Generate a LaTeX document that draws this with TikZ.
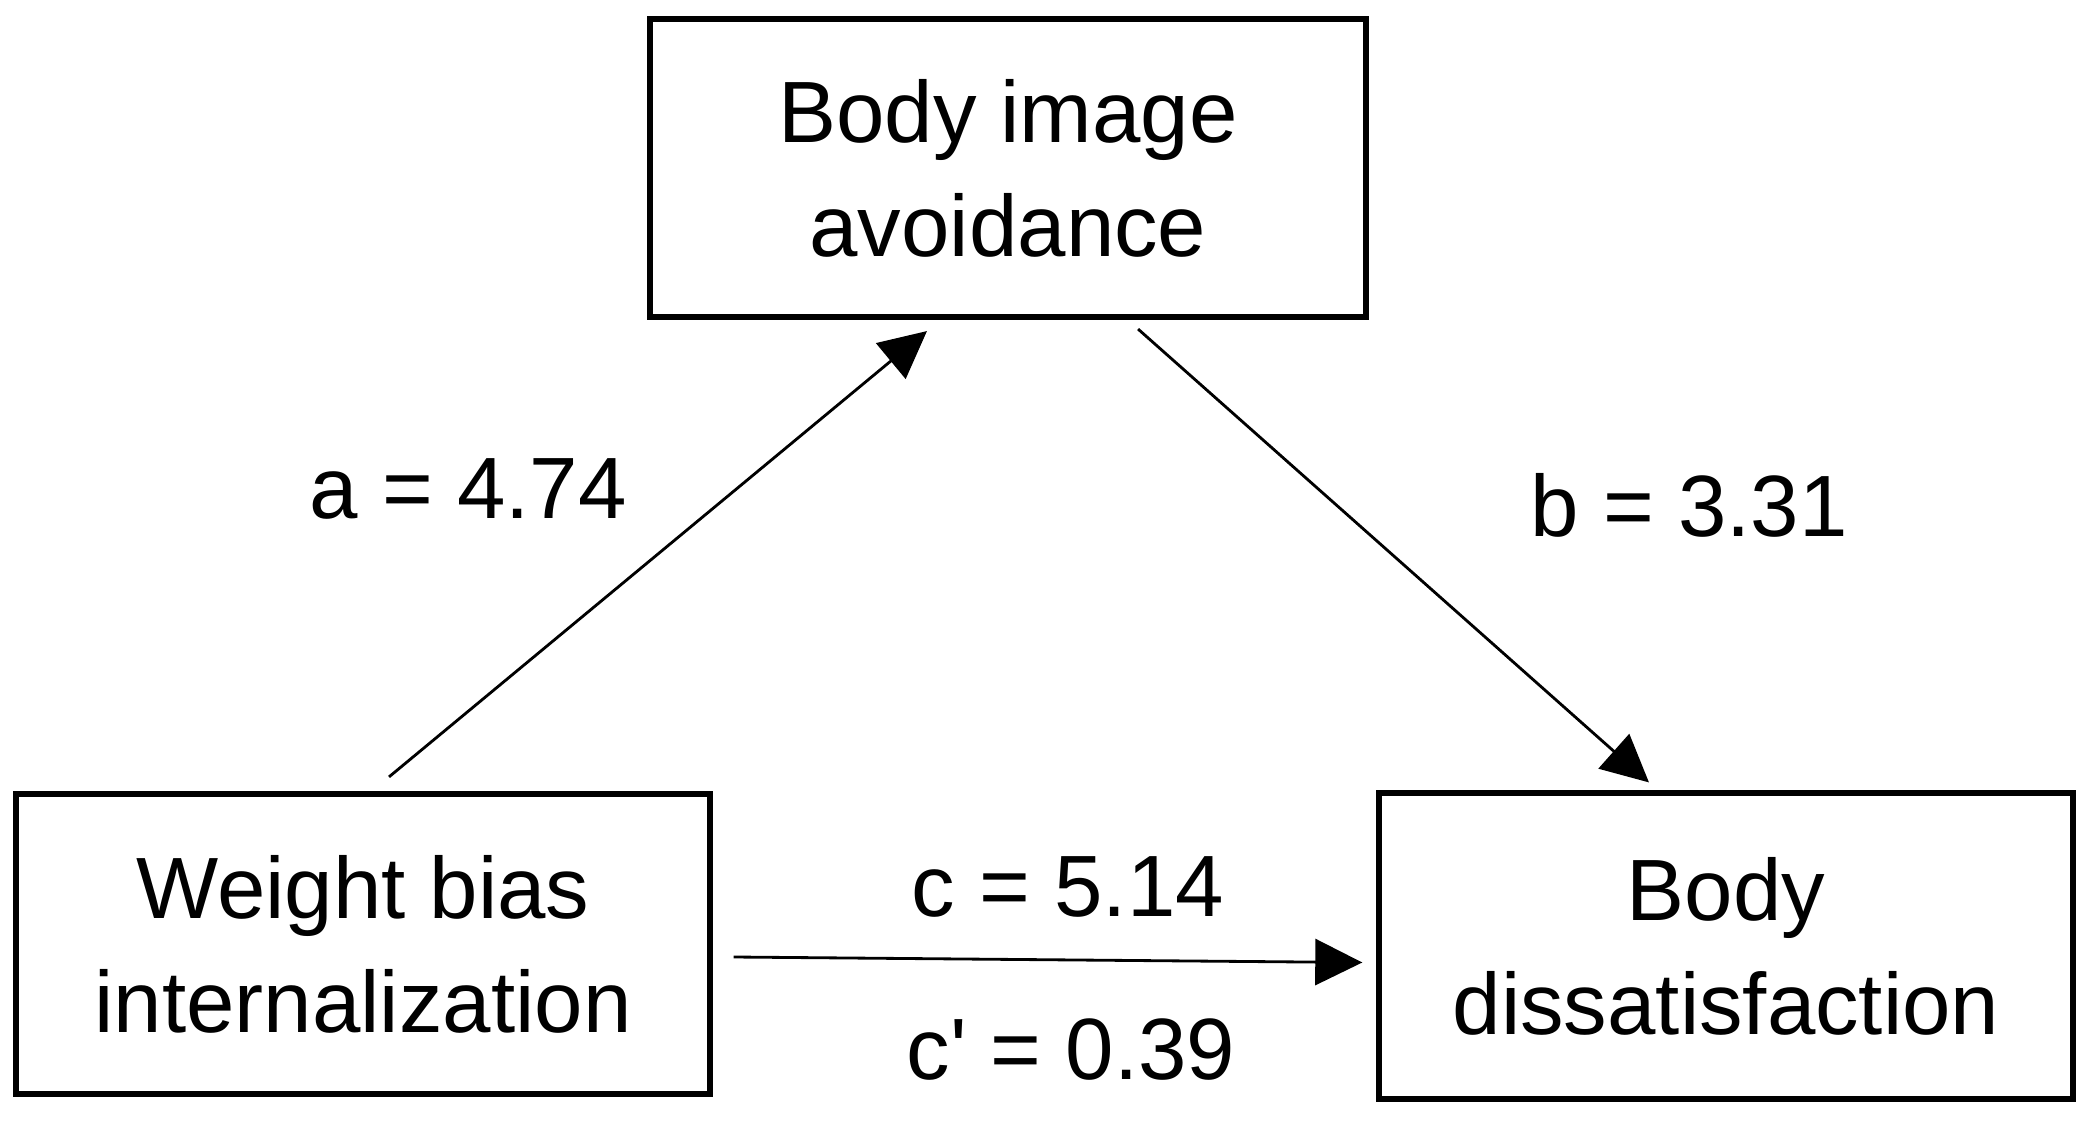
\documentclass[tikz,border=0pt]{standalone}
\usepackage{fontspec}
\setmainfont{Liberation Sans}
\usepackage{tikz}
\usetikzlibrary{arrows.meta}
\tikzset{var/.style={black,draw=black,line width=1.7pt,rectangle,minimum width=6.93cm,minimum height=3cm,align=center,font=\fontsize{24.75pt}{32.4pt}\selectfont}}
\tikzset{lab/.style={black,anchor=base,inner sep=0pt,font=\fontsize{24.75pt}{32.4pt}\selectfont}}
\tikzset{arr/.style={-{Triangle[length=0.47cm,width=0.46cm]},line width=0.8pt}}

\begin{document}
\begin{tikzpicture}[x=0.01cm,y=-0.01cm]
    \path[fill=white] (0,0) rectangle (2096,1122);

    \node[var,minimum width=7.15cm,minimum height=2.98cm] (avoid) at (1008,168) {Body image\\avoidance};
    \node[var] (wbi) at (363,944) {Weight bias\\internalization};
    \node[var,minimum height=3.05cm] (dissat) at (1726,946) {Body\\dissatisfaction};

    \node[lab] (a) at (468,519) {a = 4.74};
    \node[lab] (b) at (1689,537) {b = 3.31};
    \node[lab] (c) at (1068,917) {c = 5.14};
    \node[lab] (cp) at (1071,1080) {c\textquotesingle{} = 0.39};

    \draw[arr] ([xshift=0.26cm,yshift=0.14cm]wbi.north) to ([xshift=-0.81cm,yshift=-0.11cm]avoid.south);
    \draw[arr] ([xshift=1.30cm,yshift=-0.09cm]avoid.south) to ([xshift=-0.77cm,yshift=0.08cm]dissat.north);
    \draw[arr] ([xshift=0.21cm,yshift=-0.13cm]wbi.east) to ([xshift=-0.14cm,yshift=-0.165cm]dissat.west);
\end{tikzpicture}
\end{document}
